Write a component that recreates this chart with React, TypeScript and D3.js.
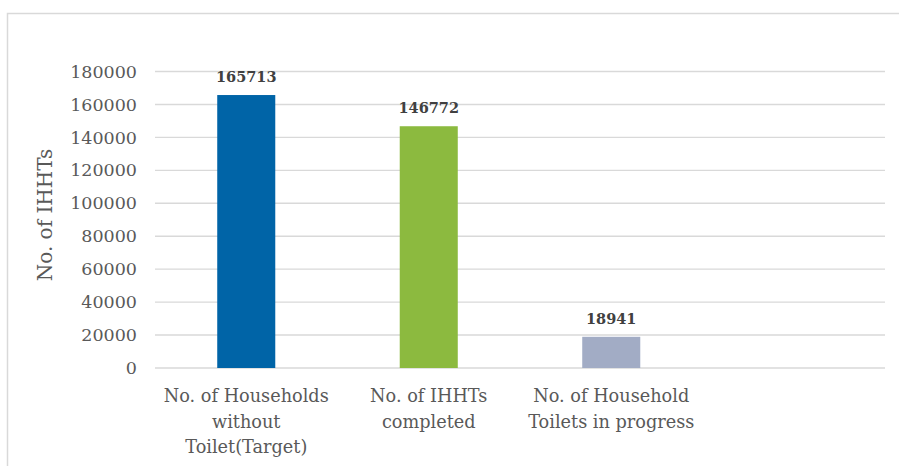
import { useEffect, useRef } from "react"
import * as d3 from "d3"

// chart data
const categories = [
  "No. of Households without Toilet(Target)",
  "No. of IHHTs completed",
  "No. of Household Toilets in progress",
  "",
]
const categoryLines = [
  ["No. of Households", "without", "Toilet(Target)"],
  ["No. of IHHTs", "completed"],
  ["No. of Household", "Toilets in progress"],
  [],
]
const values = [165713, 146772, 18941]
const barColors = ["#0064a7", "#8cba3f", "#a2acc5"]
const yTicks = [0, 20000, 40000, 60000, 80000, 100000, 120000, 140000, 160000, 180000]

const FONT = "'DejaVu Serif', serif"

export default function App() {
  const svgRef = useRef<SVGSVGElement>(null)

  useEffect(() => {
    document.body.style.margin = "0"
    if (!svgRef.current) return
    const svg = d3.select(svgRef.current)
    svg.selectAll("*").remove()

    const width = 899
    const height = 466
    svg.attr("width", width).attr("height", height)

    // outer chart border
    svg
      .append("rect")
      .attr("x", 7.5)
      .attr("y", 13.5)
      .attr("width", 920)
      .attr("height", 480)
      .attr("fill", "white")
      .attr("stroke", "#d9d9d9")
      .attr("stroke-width", 1.5)

    const left = 155
    const right = 885
    const top = 71.5
    const bottom = 368

    const x = d3.scaleBand<string>().domain(categories).range([left, right]).paddingInner(0.682).paddingOuter(0.341)
    const y = d3.scaleLinear().domain([0, 180000]).range([bottom, top])

    // gridlines
    svg
      .append("g")
      .selectAll("line")
      .data(yTicks)
      .enter()
      .append("line")
      .attr("x1", left)
      .attr("x2", right)
      .attr("y1", (d) => y(d))
      .attr("y2", (d) => y(d))
      .attr("stroke", "#d9d9d9")
      .attr("stroke-width", 1.4)

    // y tick labels
    svg
      .append("g")
      .selectAll("text")
      .data(yTicks)
      .enter()
      .append("text")
      .attr("x", 137)
      .attr("y", (d) => y(d))
      .attr("dy", "0.35em")
      .attr("text-anchor", "end")
      .style("font-family", FONT)
      .style("font-size", "17.5px")
      .style("fill", "#595959")
      .text((d) => String(d))

    // bars
    svg
      .append("g")
      .selectAll("rect")
      .data(values)
      .enter()
      .append("rect")
      .attr("x", (d, i) => x(categories[i])!)
      .attr("width", x.bandwidth())
      .attr("y", (d) => y(d))
      .attr("height", (d) => bottom - y(d))
      .attr("fill", (d, i) => barColors[i])

    // value labels
    svg
      .append("g")
      .selectAll("text")
      .data(values)
      .enter()
      .append("text")
      .attr("x", (d, i) => x(categories[i])! + x.bandwidth() / 2)
      .attr("y", (d) => y(d) - 13)
      .attr("text-anchor", "middle")
      .style("font-family", FONT)
      .style("font-size", "14.5px")
      .style("font-weight", "bold")
      .style("fill", "#404040")
      .text((d) => String(d))

    // category labels
    const cat = svg
      .append("g")
      .selectAll("text")
      .data(categories)
      .enter()
      .append("text")
      .attr("text-anchor", "middle")
      .style("font-family", FONT)
      .style("font-size", "17.7px")
      .style("fill", "#595959")

    cat
      .selectAll("tspan")
      .data((d, i) => categoryLines[i].map((line) => ({ line, cx: x(d)! + x.bandwidth() / 2 })))
      .enter()
      .append("tspan")
      .attr("x", (d) => d.cx)
      .attr("y", (d, j) => 402 + j * 25.5)
      .text((d) => d.line)

    // y axis title
    svg
      .append("text")
      .attr("transform", `translate(52, 215) rotate(-90)`)
      .attr("text-anchor", "middle")
      .style("font-family", FONT)
      .style("font-size", "20px")
      .style("fill", "#595959")
      .text("No. of IHHTs")
  }, [])

  return <svg ref={svgRef}></svg>
}
